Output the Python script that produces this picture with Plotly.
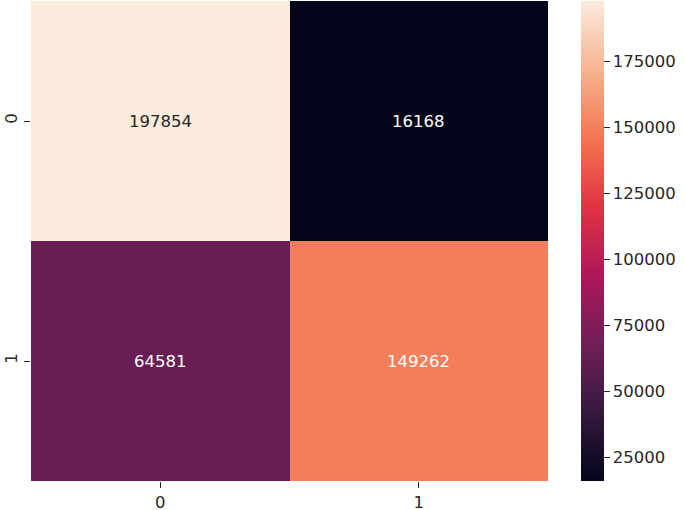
import plotly.graph_objects as go

x_labels = ["0", "1"]
y_labels = ["0", "1"]
values = [[197854, 16168],
          [64581, 149262]]
cbar_ticks = [25000, 50000, 75000, 100000, 125000, 150000, 175000]

rocket = [
    [0.0, "#03051a"],
    [1/7, "#35193e"],
    [2/7, "#701f57"],
    [3/7, "#ad1759"],
    [4/7, "#e13342"],
    [5/7, "#f37651"],
    [6/7, "#f6b48f"],
    [1.0, "#faebdd"],
]

zmin = min(min(r) for r in values)
zmax = max(max(r) for r in values)
FS = 16.5
FONT = "DejaVu Sans"
TXT = "#262626"

fig = go.Figure(go.Heatmap(
    z=values, x=x_labels, y=y_labels,
    colorscale=rocket, zmin=zmin, zmax=zmax,
    xgap=0, ygap=0,
    colorbar=dict(
        x=1.064, xanchor="left", y=0.5, yanchor="middle",
        len=1.0, lenmode="fraction", thickness=23, thicknessmode="pixels",
        outlinewidth=0, tickvals=cbar_ticks, tickformat="d",
        ticks="outside", ticklen=6, tickwidth=1.3, tickcolor=TXT,
        tickfont=dict(family=FONT, size=FS, color=TXT),
        xpad=0, ypad=0,
    ),
    hoverinfo="skip",
))

annotations = []
for i, yl in enumerate(y_labels):
    for j, xl in enumerate(x_labels):
        v = values[i][j]
        frac = (v - zmin) / (zmax - zmin)
        color = TXT if frac > 0.8 else "#ffffff"
        annotations.append(dict(x=xl, y=yl, text=str(v), showarrow=False,
                                font=dict(family=FONT, size=FS, color=color)))

fig.update_layout(
    width=685, height=510,
    margin=dict(l=31, r=137, t=1, b=29, autoexpand=False),
    paper_bgcolor="white", plot_bgcolor="white",
    annotations=annotations,
    xaxis=dict(showgrid=False, zeroline=False, ticks="outside", ticklen=6, tickwidth=1.3,
               tickcolor=TXT, tickfont=dict(family=FONT, size=FS, color=TXT),
               showline=False, automargin=False),
    yaxis=dict(showgrid=False, zeroline=False, ticks="outside", ticklen=6, tickwidth=1.3,
               tickcolor=TXT, tickangle=-90, autorange="reversed", automargin=False,
               tickfont=dict(family=FONT, size=FS, color=TXT), showline=False),
)

fig.write_html("out.html",
               config={"displayModeBar": False},
               post_script="document.body.style.margin='0';document.body.style.overflow='hidden';")
